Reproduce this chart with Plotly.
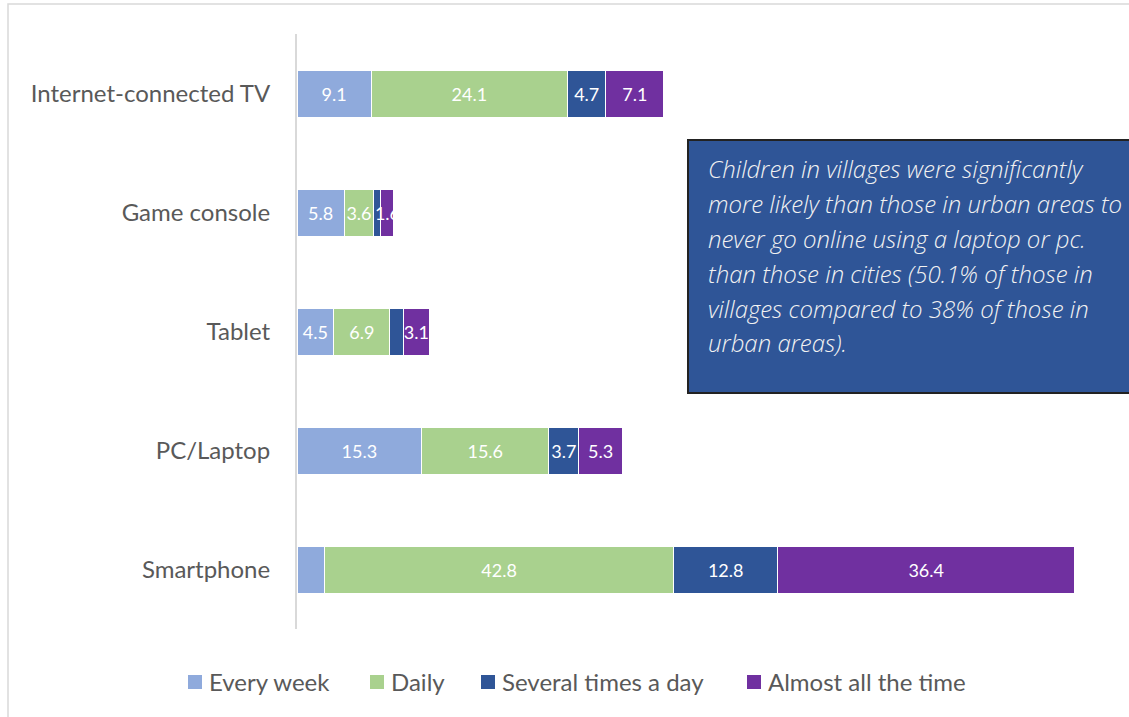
import plotly.graph_objects as go

# Devices (top to bottom) and how often children go online with each
devices = ["Internet-connected TV", "Game console", "Tablet", "PC/Laptop", "Smartphone"]
every_week = [9.1, 5.8, 4.5, 15.3, 3.4]
daily = [24.1, 3.6, 6.9, 15.6, 42.8]
several_times_a_day = [4.7, 0.9, 1.7, 3.7, 12.8]
almost_all_the_time = [7.1, 1.6, 3.1, 5.3, 36.4]

# Labels drawn on each segment (blank where the segment is left unlabelled)
every_week_labels = ["9.1", "5.8", "4.5", "15.3", ""]
daily_labels = ["24.1", "3.6", "6.9", "15.6", "42.8"]
several_labels = ["4.7", "", "", "3.7", "12.8"]
almost_labels = ["7.1", "1.6", "3.1", "5.3", "36.4"]

series = [
    ("Every week", every_week, every_week_labels, "#8FAADC"),
    ("Daily", daily, daily_labels, "#A9D18E"),
    ("Several times a day", several_times_a_day, several_labels, "#2F5597"),
    ("Almost all the time", almost_all_the_time, almost_labels, "#7030A0"),
]

note_lines = [
    "Children in villages were significantly",
    "more likely than those in urban areas to",
    "never go online using a laptop or pc.",
    "than those in cities (50.1% of those in",
    "villages compared to 38% of those in",
    "urban areas).",
]

W, H = 1129, 717
L, T, R, B = 297, 34, 17, 88
PW, PH = W - L - R, H - T - B


def px_x(px):
    return (px - L) / PW


def px_y(py):
    return (H - B - py) / PH


FONT = "Lato, 'Open Sans', sans-serif"
NOTE_FONT = "'Open Sans', Lato, sans-serif"

fig = go.Figure()
for name, vals, labels, color in series:
    fig.add_trace(go.Bar(
        y=devices, x=vals, name=name, orientation="h",
        marker=dict(color=color, line=dict(width=1, color="white")),
        text=labels, textposition="inside", insidetextanchor="middle",
        textangle=0, constraintext="none", cliponaxis=False,
        textfont=dict(color="white", size=18, family=FONT),
        hoverinfo="x+y+name", showlegend=False,
    ))

shapes = [
    # outer chart border
    dict(type="rect", xref="paper", yref="paper",
         x0=px_x(8), x1=px_x(1140), y0=px_y(730), y1=px_y(4),
         line=dict(color="#D9D9D9", width=1.5), layer="below"),
    # note box
    dict(type="rect", xref="paper", yref="paper",
         x0=px_x(688), x1=px_x(1140), y0=px_y(393), y1=px_y(140),
         fillcolor="#2F5597", line=dict(color="#222222", width=2), layer="above"),
]

annotations = []
for i, line in enumerate(note_lines):
    annotations.append(dict(
        xref="paper", yref="paper", x=px_x(706), y=px_y(168 + 35 * i),
        xanchor="left", yanchor="middle", showarrow=False, text=line,
        font=dict(family=NOTE_FONT, size=24, color="#F2F2F2",
                  style="italic", weight=300),
    ))

# Legend: coloured squares followed by series names
legend_x = [188, 370, 481, 747]
legend_y = 681
for (name, _, _, color), lx in zip(series, legend_x):
    shapes.append(dict(
        type="rect", xref="paper", yref="paper",
        x0=px_x(lx), x1=px_x(lx + 14),
        y0=px_y(legend_y + 8), y1=px_y(legend_y - 6),
        fillcolor=color, line=dict(width=0),
    ))
    annotations.append(dict(
        xref="paper", yref="paper", x=px_x(lx + 19), y=px_y(legend_y),
        xanchor="left", yanchor="middle", showarrow=False, text=name,
        font=dict(family=FONT, size=24, color="#595959"),
    ))

fig.update_layout(
    width=W, height=H,
    margin=dict(l=L, r=R, t=T, b=B),
    barmode="stack", bargap=0.605,
    plot_bgcolor="white", paper_bgcolor="white",
    font=dict(family=FONT, color="#595959", size=24),
    xaxis=dict(range=[0, 100], visible=False, showgrid=False, zeroline=False),
    yaxis=dict(autorange="reversed", showgrid=False, zeroline=False,
               showline=True, linecolor="#D9D9D9", linewidth=2,
               ticks="", ticklabelstandoff=20,
               tickfont=dict(size=24, color="#595959", family=FONT)),
    showlegend=False,
    shapes=shapes, annotations=annotations,
)

fig.write_html("out.html")
